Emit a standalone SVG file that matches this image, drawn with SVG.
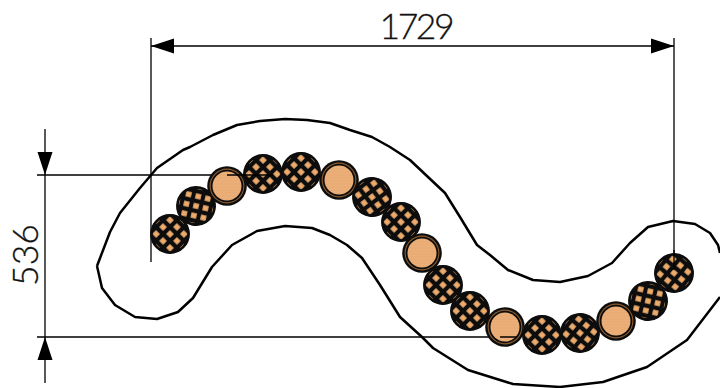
<svg xmlns="http://www.w3.org/2000/svg" xmlns:xlink="http://www.w3.org/1999/xlink" width="720" height="388" viewBox="0 0 720 388">
<style>
.dim{fill:none;stroke:#000;stroke-width:1.3}
.head{fill:#000}
.outline{fill:none;stroke:#000;stroke-width:2.5;stroke-linejoin:round}
.t{font-family:"Lato","Open Sans","Liberation Sans",sans-serif;font-weight:300;font-size:35.500px;fill:#111;stroke:#111;stroke-width:.3}
</style>
<defs>
<pattern id="net" patternUnits="userSpaceOnUse" width="9.800" height="9.800" x="4.900" y="4.900" patternTransform="rotate(45)">
<rect width="9.800" height="9.800" fill="#ecab6c"/>
<path d="M0 0H9.800V2.100H0ZM0 7.700H9.800V9.800H0ZM0 0H2.100V9.800H0ZM7.700 0H9.800V9.800H7.700Z" fill="#0d0d0d"/>
</pattern>
<pattern id="grain" patternUnits="userSpaceOnUse" width="6" height="3">
<rect width="6" height="3" fill="#ebb07a"/>
<path d="M0 1H6" stroke="#e2a268" stroke-width=".7"/>
</pattern>
<g id="mesh">
<circle r="19.500" fill="url(#net)"/>
<circle r="18.600" fill="none" stroke="#0d0d0d" stroke-width="2.600"/>
</g>
<g id="solid">
<circle r="19.800" fill="#0d0d0d"/>
<circle r="17.400" fill="#8c5c30"/>
<circle r="16.300" fill="#0d0d0d"/>
<circle r="14.500" fill="url(#grain)"/>
</g>
</defs>
<g id="connectors">
<path class="dim" d="M151 38V262M674 38V262M151 46H674M45 129V383M37 175H290M37 337H500"/>
<path class="head" d="M151 46L174 38.500V53.500ZM674 46L651 38.500V53.500ZM45 175L37.500 152H52.500ZM45 337L37.500 360H52.500Z"/>
</g>
<g id="outline"><path class="outline" d="M97 266L102 288L115 305L135 317L157 319L178 312L193 298L212 267L232 245L257 231L285 226L312 228L330 235L347 245L362 258L380 285L400 317L422 337L433 348L468 370L513 384L560 387L603 382L647 367L687 340L720 297M720 253L718 245L710 233L695 224L673 221L648 227L630 243L612 263L588 276L560 282L533 280L508 270L490 255L477 245L460 217L445 193L428 177L410 160L390 147L372 137L350 130L330 123L307 120L285 119L260 121L237 125L213 135L190 147L183 150L157 168L140 188L120 213L110 232L97 266"/></g>
<g id="m1"><use xlink:href="#mesh" href="#mesh" transform="translate(170 234)"/></g>
<g id="m2"><use xlink:href="#mesh" href="#mesh" transform="translate(196 206) rotate(-32)"/></g>
<g id="w1"><use xlink:href="#solid" href="#solid" transform="translate(227 186)"/></g>
<g id="m3"><use xlink:href="#mesh" href="#mesh" transform="translate(263 174)"/></g>
<g id="m4"><use xlink:href="#mesh" href="#mesh" transform="translate(301 172)"/></g>
<g id="w2"><use xlink:href="#solid" href="#solid" transform="translate(339 180)"/></g>
<g id="m5"><use xlink:href="#mesh" href="#mesh" transform="translate(372 197) rotate(8)"/></g>
<g id="m6"><use xlink:href="#mesh" href="#mesh" transform="translate(401 222)"/></g>
<g id="w3"><use xlink:href="#solid" href="#solid" transform="translate(422 253)"/></g>
<g id="m7"><use xlink:href="#mesh" href="#mesh" transform="translate(443 285)"/></g>
<g id="m8"><use xlink:href="#mesh" href="#mesh" transform="translate(470 311)"/></g>
<g id="w4"><use xlink:href="#solid" href="#solid" transform="translate(505 327)"/></g>
<g id="m9"><use xlink:href="#mesh" href="#mesh" transform="translate(542 335)"/></g>
<g id="m10"><use xlink:href="#mesh" href="#mesh" transform="translate(580 333) rotate(-5)"/></g>
<g id="w5"><use xlink:href="#solid" href="#solid" transform="translate(616 321)"/></g>
<g id="m11"><use xlink:href="#mesh" href="#mesh" transform="translate(648 301) rotate(-32)"/></g>
<g id="m12"><use xlink:href="#mesh" href="#mesh" transform="translate(674 273) rotate(-5)"/></g>
<path class="dim" d="M674 250V270M227 175H273M500 337H517"/>
<text id="dim-width" class="t" x="417" y="38.500" text-anchor="middle" textLength="75" lengthAdjust="spacing">1729</text>
<text id="dim-height" class="t" transform="translate(38 255) rotate(-90)" text-anchor="middle" font-size="36">536</text>
</svg>
